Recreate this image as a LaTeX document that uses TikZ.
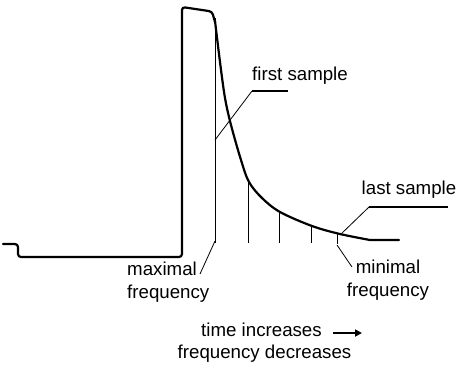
\documentclass[tikz,border=0pt]{standalone}
\usepackage{fontspec}
\setmainfont{Liberation Sans}
\usetikzlibrary{arrows.meta}
\begin{document}
\begin{tikzpicture}[x=1pt,y=-1pt,
  signal/.style={line width=2.2pt, line join=round, line cap=round},
  thinline/.style={line width=0.8pt},
  leader/.style={line width=0.8pt},
  shelf/.style={line width=2pt},
  lbl/.style={font=\fontsize{18.7}{23}\selectfont, inner sep=0pt}]
\useasboundingbox (0,0) rectangle (476,373);
% signal
\draw[signal, rounded corners=3pt] (3,244) -- (18,244) -- (18,257) -- (182,257) -- (182,7) -- (212,11.5) -- (215,22);
\draw[signal] plot[smooth, tension=0.55] coordinates {(215,21) (220,62) (225,98) (231,125) (241,160) (249,182) (262,198) (280,212) (312,226) (340,234) (370,240)} -- (399,240);
% sample lines
\draw[thinline] (215,18) -- (215,243);
\draw[thinline] (248,183) -- (248,243);
\draw[thinline] (279,213) -- (279,243);
\draw[thinline] (311,226) -- (311,243);
\draw[line width=0.6pt] (337,233) -- (337,244);
% labels
\node[lbl] (first) at (300,76) {first sample};
\node[lbl] (last) at (409,190) {last sample};
\node[lbl, align=left, anchor=west] (maxf) at (127,282) {maximal\\frequency};
\node[lbl, align=center] (minf) at (388,280) {minimal\\frequency};
\node[lbl] (time) at (261.5,330) {time increases};
\node[lbl] (freq) at (264.5,354) {frequency decreases};
% leaders
\coordinate (fs1) at (215,140);
\coordinate (fs2) at (252,91);
\coordinate (fs3) at (288,91);
\draw[leader] (fs1) -- (fs2);
\draw[shelf] (fs2) -- (fs3);
\coordinate (ls1) at (340,235);
\coordinate (ls2) at (369,207);
\coordinate (ls3) at (448,207);
\draw[leader] (ls1) -- (ls2);
\draw[shelf] (ls2) -- (ls3);
\coordinate (mx1) at (215,241);
\coordinate (mx2) at (200,274);
\draw[leader] (mx1) -- (mx2);
\coordinate (mn1) at (337,245);
\coordinate (mn2) at (352,267);
\draw[leader] (mn1) -- (mn2);
% arrow
\coordinate (ar1) at (333,333);
\coordinate (ar2) at (362,333);
\draw[line width=1.8pt, -{Triangle[length=7pt,width=7pt]}] (ar1) -- (ar2);
\end{tikzpicture}
\end{document}
